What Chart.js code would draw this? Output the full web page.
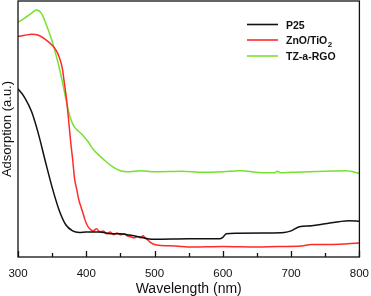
<!DOCTYPE html>
<html>
<head>
<meta charset="utf-8">
<script src="https://cdn.jsdelivr.net/npm/chart.js@4/dist/chart.umd.min.js"></script>
<style>
body{margin:0;background:#fff}
</style>
</head>
<body>
<canvas id="chart" width="371" height="296"></canvas>
<script>
// P25
const wlP25 = [300,310,320,330,340,350,360,370,380,390,400,420,430,440,450,460,470,480,490,500,550,595,600,605,620,660,690,700,712,730,750,770,785,800]
const p25 = [65.7,62.2,56.7,48.0,37.4,27.2,18.5,12.6,10.2,9.6,9.8,9.8,9.3,9.1,9.1,8.7,8.3,7.7,7.1,6.9,7.1,7.1,7.7,9.1,9.3,9.4,9.6,10.2,11.8,12.2,13.0,13.8,14.2,14.0]

// ZnO/TiO2
const wlZnO = [300,310,320,330,340,350,355,360,365,368,371,374,377,380,383,386,389,392,395,398,401,405,410,415,420,425,430,435,440,445,450,455,460,465,470,475,480,483,486,490,495,500,510,530,555,600,650,680,715,730,760,800]
const zno = [86.2,86.6,87.0,86.6,85.0,82.7,81.1,78.3,73.6,67.7,61.8,53.9,45.3,38.2,30.3,26.4,22.4,19.7,17.3,14.6,12.6,11.0,10.2,11.0,9.8,10.2,9.1,9.8,8.7,9.4,8.7,9.1,8.3,7.9,7.5,7.9,7.5,8.3,7.5,6.7,5.5,4.9,4.5,4.3,3.9,4.1,3.9,4.1,4.3,4.9,4.9,5.5]

// TZ-a-RGO
const wlTZ = [300,310,320,327,335,340,345,350,355,360,365,370,375,380,385,390,397,403,410,420,430,440,450,460,480,500,540,570,600,625,660,675,680,685,700,750,780,800]
const tz = [91.7,93.3,95.3,96.5,94.9,91.7,88.2,84.3,79.5,74.4,68.5,61.8,55.9,52.0,50.0,48.8,46.9,44.9,42.1,39.4,37.0,35.0,33.7,33.3,33.7,33.3,33.5,33.1,33.3,33.7,32.9,32.9,33.5,32.9,33.1,33.5,33.7,32.7]

const xTicks = [300,400,500,600,700,800]
const xMinor = [350,450,550,650,750]

const seriesNames = ['P25','ZnO/TiO','TZ-a-RGO']
const seriesColors = ['#111111','#ff2a2a','#74e22e']

const pts = (xs,ys) => xs.map((x,i)=>({x,y:ys[i]}))

const boxPlugin = {
  id:'box',
  afterDraw(chart){
    const {ctx, chartArea:a, scales:{x}} = chart
    ctx.save()
    ctx.strokeStyle = '#111'
    ctx.lineWidth = 1.3
    ctx.strokeRect(a.left, a.top, a.right-a.left, a.bottom-a.top)
    ctx.beginPath()
    xTicks.forEach(v=>{
      const px = Math.round(x.getPixelForValue(v))+0.5
      ctx.moveTo(px,a.bottom); ctx.lineTo(px,a.bottom-6)
    })
    xMinor.forEach(v=>{
      const px = Math.round(x.getPixelForValue(v))+0.5
      ctx.moveTo(px,a.bottom); ctx.lineTo(px,a.bottom-4)
    })
    ctx.stroke()

    // legend
    const lx = 247, tx = 286
    const rows = [24.5,40,56]
    ctx.font = 'bold 10.5px "Liberation Sans", Arial, sans-serif'
    ctx.textBaseline = 'middle'
    rows.forEach((ry,i)=>{
      ctx.strokeStyle = seriesColors[i]
      ctx.lineWidth = 1.6
      ctx.beginPath(); ctx.moveTo(lx,ry); ctx.lineTo(lx+31,ry); ctx.stroke()
      ctx.fillStyle = '#111'
      ctx.fillText(seriesNames[i], tx, ry+1.5)
      if(i===1){
        const w = ctx.measureText(seriesNames[i]).width
        ctx.font = 'bold 8px "Liberation Sans", Arial, sans-serif'
        ctx.fillText('2', tx+w+0.5, ry+5)
        ctx.font = 'bold 10.5px "Liberation Sans", Arial, sans-serif'
      }
    })
    ctx.restore()
  }
}

new Chart(document.getElementById('chart'),{
  type:'line',
  data:{
    datasets:[
      {label:'P25', data:pts(wlP25,p25), borderColor:seriesColors[0], borderWidth:1.5},
      {label:'ZnO/TiO2', data:pts(wlZnO,zno), borderColor:seriesColors[1], borderWidth:1.5},
      {label:'TZ-a-RGO', data:pts(wlTZ,tz), borderColor:seriesColors[2], borderWidth:1.5}
    ]
  },
  options:{
    responsive:false,
    animation:false,
    devicePixelRatio:1,
    elements:{point:{radius:0}, line:{cubicInterpolationMode:'monotone', fill:false}},
    layout:{padding:{top:1,right:11,left:0,bottom:0}},
    plugins:{legend:{display:false}, tooltip:{enabled:false}},
    scales:{
      x:{
        type:'linear', min:300, max:800,
        afterBuildTicks(s){ s.ticks = xTicks.map(v=>({value:v})) },
        afterFit(s){ s.height = 39 },
        grid:{display:false},
        border:{display:false},
        ticks:{padding:2, color:'#111', maxRotation:0, font:{size:11.5, family:'"Liberation Sans", Arial, sans-serif'}},
        title:{display:true, text:'Wavelength (nm)', color:'#111', padding:{top:0,bottom:-2}, font:{size:14, family:'"Liberation Sans", Arial, sans-serif'}}
      },
      y:{
        min:0, max:100,
        afterFit(s){ s.width = 18 },
        grid:{display:false},
        border:{display:false},
        ticks:{display:false},
        title:{display:true, text:'Adsorption (a.u.)', color:'#111', padding:{top:0,bottom:0}, font:{size:13, family:'"Liberation Sans", Arial, sans-serif'}}
      }
    }
  },
  plugins:[boxPlugin]
})
</script>
</body>
</html>
